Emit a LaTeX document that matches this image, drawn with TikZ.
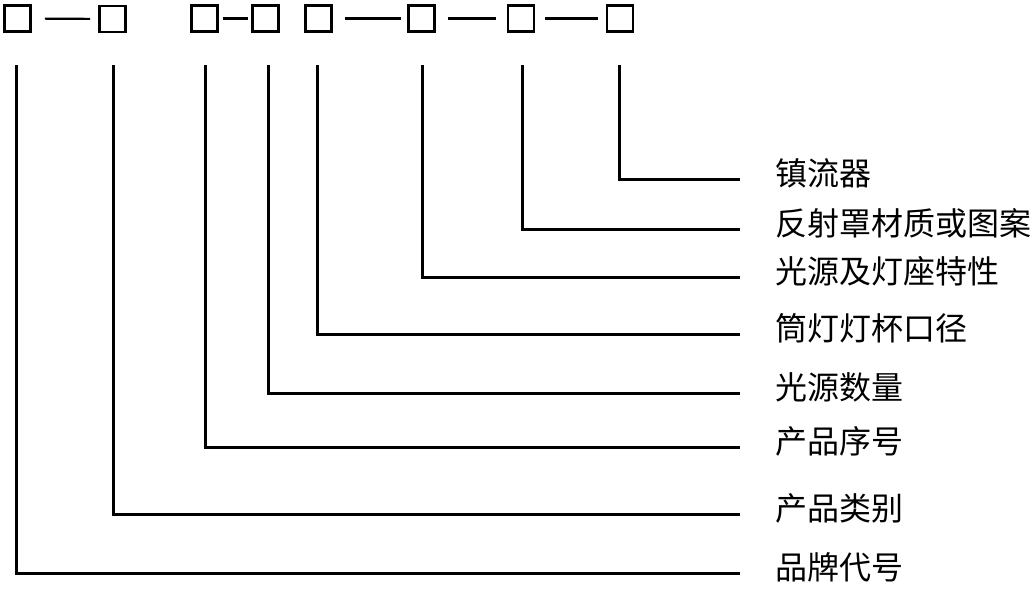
\documentclass[tikz,border=0pt]{standalone}
\usepackage{fontspec}
\newfontfamily\cjk{Noto Sans CJK SC}
\begin{document}
\begin{tikzpicture}[x=1pt,y=-1pt,
  codebox/.style={draw=black,line width=2.6pt,minimum width=26pt,minimum height=26pt,inner sep=0pt,fill=white},
  lab/.style={anchor=west,inner sep=0pt,outer xsep=35pt,outer ysep=0pt,font=\cjk\fontsize{32}{32}\selectfont,text height=1.375em,text depth=0pt},
  conn/.style={line width=3pt},
  dashline/.style={line width=2.2pt}]
\useasboundingbox (0,0) rectangle (1033,605);
% code boxes
\node[codebox] (b1) at (17.5,18.5) {};
\node[codebox] (b2) at (112.5,19) {};
\node[codebox] (b3) at (204.5,18.5) {};
\node[codebox] (b4) at (265.5,18.5) {};
\node[codebox] (b5) at (318.5,18.5) {};
\node[codebox] (b6) at (421.5,18.5) {};
\node[codebox] (b7) at (521,18.5) {};
\node[codebox] (b8) at (620,18.5) {};
% dashes between boxes
\draw[dashline,shorten <=13pt,shorten >=8pt] (b1) -- (b2);
\draw[dashline,shorten <=4pt,shorten >=3pt] (b3) -- (b4);
\draw[dashline,shorten <=12pt,shorten >=6pt] (b5) -- (b6);
\draw[dashline,shorten <=12pt,shorten >=11pt] (b6) -- (b7);
\draw[dashline,shorten <=10pt,shorten >=8pt] (b7) -- (b8);
% labels
\node[lab] (l8) at (740,179) {镇流器};
\node[lab] (l7) at (740,229) {反射罩材质或图案};
\node[lab] (l6) at (740,277) {光源及灯座特性};
\node[lab] (l5) at (740,334) {筒灯灯杯口径};
\node[lab] (l4) at (740,393) {光源数量};
\node[lab] (l3) at (740,447) {产品序号};
\node[lab] (l2) at (740,514) {产品类别};
\node[lab] (l1) at (740,573) {品牌代号};
% tops of leader lines
\coordinate (t1) at (16,65);
\coordinate (t2) at (113,65);
\coordinate (t3) at (205,65);
\coordinate (t4) at (268,65);
\coordinate (t5) at (317,65);
\coordinate (t6) at (422,65);
\coordinate (t7) at (522,65);
\coordinate (t8) at (619,65);
% leader lines
\foreach \i in {1,...,8}{
  \draw[conn,line join=miter] (t\i) |- (l\i.west);
}
\end{tikzpicture}
\end{document}
